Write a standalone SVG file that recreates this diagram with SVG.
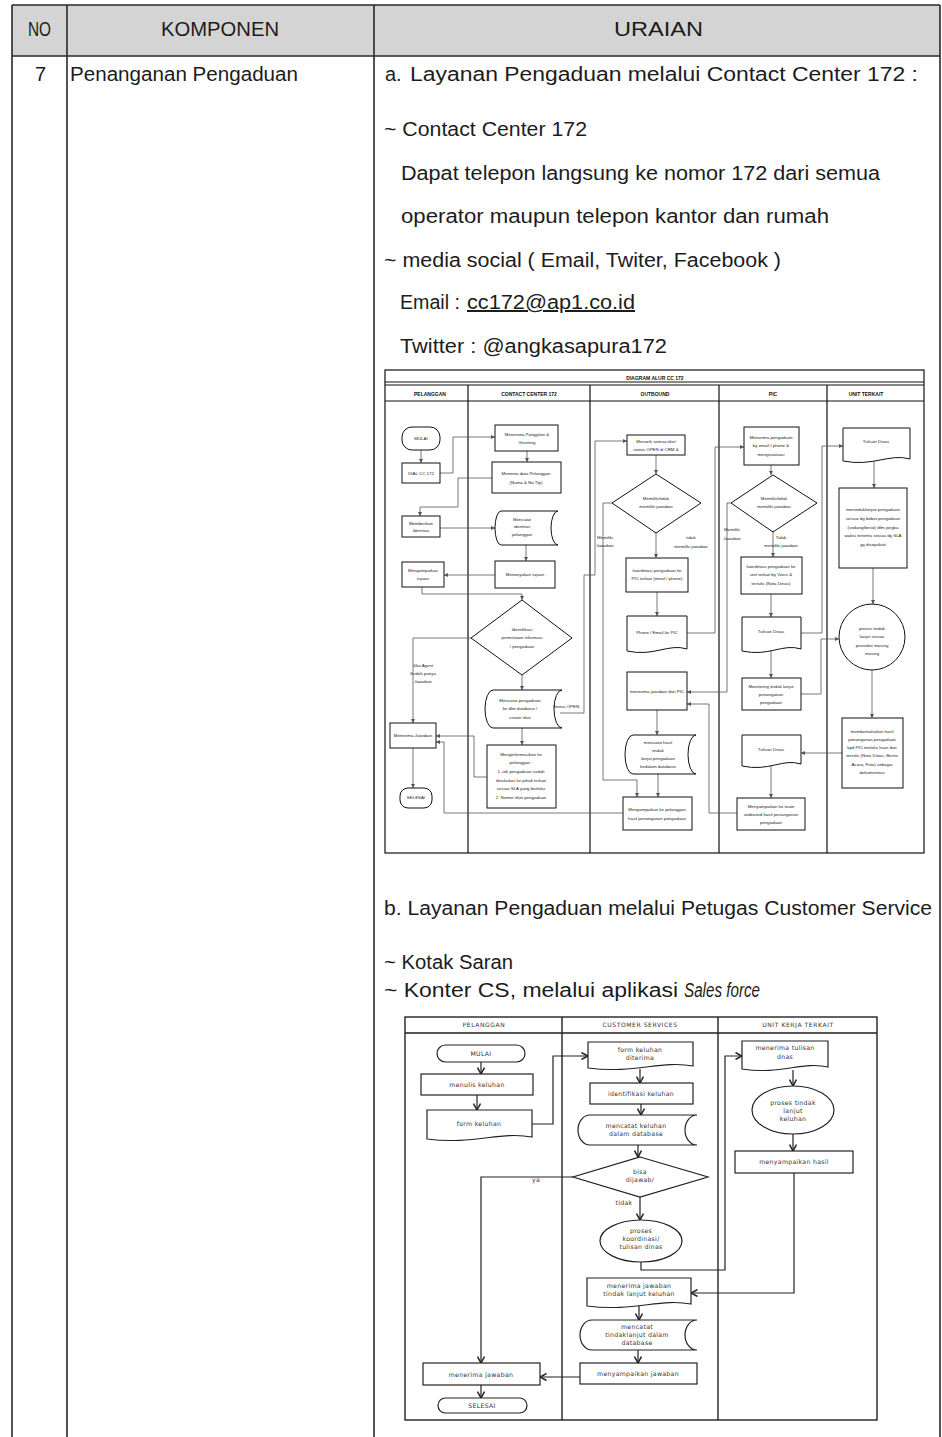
<svg xmlns="http://www.w3.org/2000/svg" width="942" height="1437" viewBox="0 0 942 1437">
<style>
.tl{stroke:#2a2a2a;stroke-width:1.6;fill:none}
.t{font-family:"Liberation Sans",Arial,sans-serif;font-size:20px;fill:#1c1c1c}
.s1{fill:#fff;stroke:#111;stroke-width:1}
.f1{fill:none;stroke:#111;stroke-width:1.2}
.x1{font-family:"Liberation Sans",Arial,sans-serif;font-size:4.4px;fill:#222;text-anchor:middle}
.h1{font-family:"Liberation Sans",Arial,sans-serif;font-size:5px;font-weight:bold;fill:#111;text-anchor:middle}
.c1{fill:none;stroke:#555;stroke-width:0.8;marker-end:url(#m1)}
.s2{fill:#fff;stroke:#222;stroke-width:1.2}
.f2{fill:none;stroke:#222;stroke-width:1.4}
.x2{font-family:"DejaVu Sans",Verdana,sans-serif;font-size:6.2px;fill:#333;text-anchor:middle;letter-spacing:0.3px}
.h2{font-family:"DejaVu Sans",Verdana,sans-serif;font-size:6px;fill:#333;text-anchor:middle;letter-spacing:0.6px}
.c2{fill:none;stroke:#222;stroke-width:1.2;marker-end:url(#m2)}
</style>
<defs>
<marker id="m1" markerUnits="userSpaceOnUse" markerWidth="4" markerHeight="4" refX="4" refY="2" orient="auto"><path d="M0,0 L4,2 L0,4 Z" fill="#555"/></marker>
<marker id="m2" markerUnits="userSpaceOnUse" markerWidth="8" markerHeight="8" viewBox="0 0 8 8" refX="7" refY="4" orient="auto"><path d="M0.5,0.5 L7,4 L0.5,7.5" fill="none" stroke="#222" stroke-width="1.5"/></marker>
</defs>
<rect width="942" height="1437" fill="#fff"/>

<g id="table">
<rect x="12" y="5" width="928" height="51" fill="#d4d4d4"/>
<path class="tl" d="M12,5 H940 M12,56 H940 M12,5 V1437 M67,5 V1437 M374,5 V1437 M940,5 V1437"/>
<text class="t" x="28" y="36" textLength="23" lengthAdjust="spacingAndGlyphs">NO</text>
<text class="t" x="161" y="36" textLength="118" lengthAdjust="spacingAndGlyphs">KOMPONEN</text>
<text class="t" x="614" y="36" textLength="89" lengthAdjust="spacingAndGlyphs">URAIAN</text>
<text class="t" x="35" y="81">7</text>
<text class="t" x="70" y="81" textLength="228" lengthAdjust="spacingAndGlyphs">Penanganan Pengaduan</text>
</g>

<g id="uraian-text">
<text class="t" x="385" y="81">a.</text>
<text class="t" x="410" y="81" textLength="508" lengthAdjust="spacingAndGlyphs">Layanan Pengaduan melalui Contact Center 172 :</text>
<text class="t" x="384" y="136" textLength="203" lengthAdjust="spacingAndGlyphs">~ Contact Center 172</text>
<text class="t" x="401" y="180" textLength="479" lengthAdjust="spacingAndGlyphs">Dapat telepon langsung ke nomor 172 dari semua</text>
<text class="t" x="401" y="223" textLength="428" lengthAdjust="spacingAndGlyphs">operator maupun telepon kantor dan rumah</text>
<text class="t" x="384" y="267" textLength="397" lengthAdjust="spacingAndGlyphs">~ media social ( Email, Twiter, Facebook )</text>
<text class="t" x="400" y="309" textLength="60" lengthAdjust="spacingAndGlyphs">Email :</text>
<text class="t" x="467" y="309" textLength="168" lengthAdjust="spacingAndGlyphs" text-decoration="underline">cc172@ap1.co.id</text>
<text class="t" x="400" y="353" textLength="267" lengthAdjust="spacingAndGlyphs">Twitter : @angkasapura172</text>
<text class="t" x="384" y="915" textLength="548" lengthAdjust="spacingAndGlyphs">b. Layanan Pengaduan melalui Petugas Customer Service</text>
<text class="t" x="384" y="969" font-size="18.5px" textLength="129" lengthAdjust="spacingAndGlyphs">~ Kotak Saran</text>
<text class="t" x="384" y="997" font-size="18.5px" textLength="294" lengthAdjust="spacingAndGlyphs">~ Konter CS, melalui aplikasi</text>
<text class="t" x="684" y="997" font-size="18.5px" textLength="76" lengthAdjust="spacingAndGlyphs" font-style="italic">Sales force</text>
</g>

<!-- ================= DIAGRAM ALUR CC 172 ================= -->
<g id="cc172-frame">
<rect class="f1" x="385" y="370" width="539" height="483"/>
<path class="f1" d="M385,382 H924 M385,385 H924 M385,401 H924 M468,385 V853 M590,385 V853 M719,385 V853 M827,385 V853"/>
<text class="h1" x="655" y="380" font-size="6px">DIAGRAM ALUR CC 172</text>
<text class="h1" x="430" y="396">PELANGGAN</text>
<text class="h1" x="529" y="396">CONTACT CENTER 172</text>
<text class="h1" x="655" y="396">OUTBOUND</text>
<text class="h1" x="773" y="396">PIC</text>
<text class="h1" x="866" y="396">UNIT TERKAIT</text>
</g>

<g id="cc172-connectors">
<path class="c1" d="M421,450 V463"/>
<path class="c1" d="M440,473 H453 V437 H495"/>
<path class="c1" d="M527,451 V462"/>
<path class="c1" d="M492,478 H458 V507 H420 V516"/>
<path class="c1" d="M440,528 H495"/>
<path class="c1" d="M526,545 V561"/>
<path class="c1" d="M495,575 H444"/>
<path class="c1" d="M422,587 V594 H522 V600"/>
<path class="c1" d="M471,638 H413 V723"/>
<path class="c1" d="M522,675 V690"/>
<path class="c1" d="M560,713 H584 V575 H595 V441 H627"/>
<path class="c1" d="M522,728 V745"/>
<path class="c1" d="M487,777 H474 V736 H436"/>
<path class="c1" d="M623,813 H444 V742 H436"/>
<path class="c1" d="M413,748 V788"/>
<path class="c1" d="M656,455 V474"/>
<path class="c1" d="M612,503 H603 V780 H637 V797"/>
<path class="c1" d="M656,533 V558"/>
<path class="c1" d="M657,592 V616"/>
<path class="c1" d="M687,633 H715 V447 H744"/>
<path class="c1" d="M731,503 H727 V692 H687"/>
<path class="c1" d="M737,813 H709 V704 H687"/>
<path class="c1" d="M657,710 V735"/>
<path class="c1" d="M658,774 V797"/>
<path class="c1" d="M771,465 V475"/>
<path class="c1" d="M773,532 V557"/>
<path class="c1" d="M771,594 V617"/>
<path class="c1" d="M801,633 H822 V446 H843"/>
<path class="c1" d="M771,650 V678"/>
<path class="c1" d="M801,694 H821 V639 H839"/>
<path class="c1" d="M842,753 H801"/>
<path class="c1" d="M771,765 V798"/>
<path class="c1" d="M874,460 V488"/>
<path class="c1" d="M873,568 V604"/>
<path class="c1" d="M872,670 V718"/>
</g>

<g id="cc-mulai"><rect class="s1" x="402" y="427" width="38" height="23" rx="10"/><text class="x1" x="421" y="440">MULAI</text></g>
<g id="cc-dial"><rect class="s1" x="402" y="463" width="38" height="20"/><text class="x1" x="421" y="475">DIAL CC 172</text></g>
<g id="cc-menerima-panggilan"><rect class="s1" x="495" y="425" width="63" height="26"/><text class="x1" x="527" y="436">Menerima Panggilan &amp;</text><text class="x1" x="527" y="444">Greeting</text></g>
<g id="cc-meminta-data"><rect class="s1" x="492" y="462" width="69" height="31"/><text class="x1" x="526" y="475">Meminta data Pelanggan</text><text class="x1" x="526" y="484">(Nama &amp; No Tlp)</text></g>
<g id="cc-memberikan"><rect class="s1" x="402" y="516" width="38" height="21"/><text class="x1" x="421" y="525">Memberikan</text><text class="x1" x="421" y="532">Identitas</text></g>
<g id="cc-mencatat-identitas"><path class="s1" d="M501,511 H558 A7,17 0 0 0 558,545 H501 A6,17 0 0 1 501,511 Z"/><text class="x1" x="522" y="521">Mencatat</text><text class="x1" x="522" y="528">identitas</text><text class="x1" x="522" y="536">pelanggan</text></g>
<g id="cc-menanyakan"><rect class="s1" x="495" y="561" width="60" height="27"/><text class="x1" x="525" y="576">Menanyakan tujuan</text></g>
<g id="cc-menyampaikan-tujuan"><rect class="s1" x="402" y="562" width="42" height="25"/><text class="x1" x="423" y="572">Menyampaikan</text><text class="x1" x="423" y="580">tujuan</text></g>
<g id="cc-identifikasi"><polygon class="s1" points="522,600 572,638 522,675 471,638"/><text class="x1" x="522" y="631">Identifikasi</text><text class="x1" x="522" y="639">permintaan informasi</text><text class="x1" x="522" y="648">/ pengaduan</text></g>
<g id="cc-jika-agent"><text class="x1" x="423" y="667" text-anchor="start">Jika Agent</text><text class="x1" x="423" y="675" text-anchor="start">Sudah punya</text><text class="x1" x="423" y="683" text-anchor="start">Jawaban</text></g>
<g id="cc-mencatat-pengaduan"><path class="s1" d="M493,690 H562 A8,19 0 0 0 562,728 H493 A8,19 0 0 1 493,690 Z"/><text class="x1" x="520" y="702">Mencatat pengaduan</text><text class="x1" x="520" y="710">ke dlm database /</text><text class="x1" x="520" y="719">create tiket</text></g>
<g id="cc-status-open"><text class="x1" x="566" y="708">Status OPEN</text></g>
<g id="cc-menginformasikan"><rect class="s1" x="487" y="745" width="69" height="63"/><text class="x1" x="521" y="756">Menginformasikan ke</text><text class="x1" x="521" y="764">pelanggan :</text><text class="x1" x="521" y="773">1. utk pengaduan sudah</text><text class="x1" x="521" y="782">dieskalasi ke pihak terkait</text><text class="x1" x="521" y="790">sesuai SLA yang berlaku</text><text class="x1" x="521" y="799">2. Nomer tiket pengaduan</text></g>
<g id="cc-menerima-jawaban"><rect class="s1" x="390" y="723" width="46" height="25"/><text class="x1" x="413" y="737">Menerima Jawaban</text></g>
<g id="cc-selesai"><rect class="s1" x="400" y="788" width="32" height="20" rx="8"/><text class="x1" x="416" y="799">SELESAI</text></g>

<g id="ob-menarik"><rect class="s1" x="627" y="435" width="58" height="20"/><text class="x1" x="656" y="443">Menarik semua tiket</text><text class="x1" x="656" y="451">status OPEN di CRM &amp;</text></g>
<g id="ob-diamond"><polygon class="s1" points="656,474 701,503 656,533 612,503"/><text class="x1" x="656" y="500">Memiliki/tidak</text><text class="x1" x="656" y="508">memiliki jawaban</text></g>
<g id="ob-labels"><text class="x1" x="605" y="539" text-anchor="start">Memiliki</text><text class="x1" x="605" y="547" text-anchor="start">Jawaban</text><text class="x1" x="691" y="539">tidak</text><text class="x1" x="691" y="548">memiliki jawaban</text></g>
<g id="ob-koordinasi"><rect class="s1" x="626" y="558" width="62" height="34"/><text class="x1" x="657" y="572">koordinasi pengaduan ke</text><text class="x1" x="657" y="580">PIC terkait (email / phone)</text></g>
<g id="ob-phone"><path class="s1" d="M627,616 H687 V649 C669,643 654,657 627,651 Z"/><text class="x1" x="657" y="634">Phone / Email ke PIC</text></g>
<g id="ob-menerima-jawaban"><rect class="s1" x="627" y="672" width="60" height="38"/><text class="x1" x="657" y="693">menerima jawaban dari PIC</text></g>
<g id="ob-mencatat-hasil"><path class="s1" d="M633,735 H696 A8,19.5 0 0 0 696,774 H633 A8,19.5 0 0 1 633,735 Z"/><text class="x1" x="658" y="744">mencatat hasil</text><text class="x1" x="658" y="752">tindak</text><text class="x1" x="658" y="760">lanjut pengaduan</text><text class="x1" x="658" y="768">kedalam database</text></g>
<g id="ob-menyampaikan"><rect class="s1" x="623" y="797" width="69" height="33"/><text class="x1" x="657" y="811">Menyampaikan ke pelanggan</text><text class="x1" x="657" y="820">hasil penanganan pengaduan</text></g>

<g id="pic-menerima"><rect class="s1" x="744" y="427" width="55" height="38"/><text class="x1" x="771" y="439">Menerima pengaduan</text><text class="x1" x="771" y="447">by email / phone &amp;</text><text class="x1" x="771" y="456">mengevaluasi</text></g>
<g id="pic-diamond"><polygon class="s1" points="773,475 817,503 773,532 731,503"/><text class="x1" x="774" y="500">Memiliki/tidak</text><text class="x1" x="774" y="508">memiliki jawaban</text></g>
<g id="pic-labels"><text class="x1" x="732" y="531" text-anchor="start">Memiliki</text><text class="x1" x="732" y="540" text-anchor="start">Jawaban</text><text class="x1" x="781" y="539" text-anchor="start">Tidak</text><text class="x1" x="781" y="547" text-anchor="start">memiliki jawaban</text></g>
<g id="pic-koordinasi"><rect class="s1" x="741" y="557" width="61" height="37"/><text class="x1" x="771" y="568">koordinasi pengaduan ke</text><text class="x1" x="771" y="576">unit terkait by Voice &amp;</text><text class="x1" x="771" y="585">tertulis (Nota Dinas)</text></g>
<g id="pic-tulisan1"><path class="s1" d="M742,617 H801 V649 C783,643 769,657 742,651 Z"/><text class="x1" x="771" y="633">Tulisan Dinas</text></g>
<g id="pic-monitoring"><rect class="s1" x="742" y="678" width="59" height="32"/><text class="x1" x="771" y="688">Monitoring tindak lanjut</text><text class="x1" x="771" y="696">penanganan</text><text class="x1" x="771" y="704">pengaduan</text></g>
<g id="pic-tulisan2"><path class="s1" d="M742,735 H801 V764 C783,758 769,772 742,766 Z"/><text class="x1" x="771" y="751">Tulisan Dinas</text></g>
<g id="pic-menyampaikan"><rect class="s1" x="737" y="798" width="68" height="32"/><text class="x1" x="771" y="808">Menyampaikan ke team</text><text class="x1" x="771" y="816">outbound hasil penanganan</text><text class="x1" x="771" y="824">pengaduan</text></g>

<g id="ut-tulisan"><path class="s1" d="M843,428 H910 V459 C890,453 873,467 843,461 Z"/><text class="x1" x="876" y="443">Tulisan Dinas</text></g>
<g id="ut-menindaklanjuti"><rect class="s1" x="839" y="488" width="68" height="80"/><text class="x1" x="873" y="511">menindaklanjuti pengaduan</text><text class="x1" x="873" y="520">sesuai dg bobot pengaduan</text><text class="x1" x="873" y="529">(sedang/berat) dlm jangka</text><text class="x1" x="873" y="537">waktu tertentu sesuai dg SLA</text><text class="x1" x="873" y="546">yg disepakati</text></g>
<g id="ut-proses"><circle class="s1" cx="872" cy="637" r="33"/><text class="x1" x="872" y="630">proses tindak</text><text class="x1" x="872" y="638">lanjut sesuai</text><text class="x1" x="872" y="647">prosedur masing</text><text class="x1" x="872" y="655">masing</text></g>
<g id="ut-memberitahukan"><rect class="s1" x="842" y="718" width="61" height="70"/><text class="x1" x="872" y="733">memberitahukan hasil</text><text class="x1" x="872" y="741">penanganan pengaduan</text><text class="x1" x="872" y="749">kpd PIC melalui lisan dan</text><text class="x1" x="872" y="757">tertulis (Nota Dinas, Berita</text><text class="x1" x="872" y="766">Acara, Foto) sebagai</text><text class="x1" x="872" y="774">dokumentasi</text></g>

<!-- ================= DIAGRAM CS ================= -->
<g id="cs-frame">
<rect class="f2" x="405" y="1017" width="472" height="403"/>
<path class="f2" d="M405,1033 H877 M562,1017 V1420 M718,1017 V1420"/>
<text class="h2" x="484" y="1027">PELANGGAN</text>
<text class="h2" x="640" y="1027">CUSTOMER SERVICES</text>
<text class="h2" x="798" y="1027">UNIT KERJA TERKAIT</text>
</g>

<g id="cs-connectors">
<path class="c2" d="M481,1062 V1074"/>
<path class="c2" d="M477,1095 V1110"/>
<path class="c2" d="M532,1124 H553 V1056 H588"/>
<path class="c2" d="M640,1069 V1083"/>
<path class="c2" d="M641,1104 V1115"/>
<path class="c2" d="M638,1145 V1157"/>
<path class="c2" d="M573,1177 H481 V1363"/>
<path class="c2" d="M640,1197 V1220"/>
<path class="c2" d="M641,1262 V1270 H725 V1056 H742"/>
<path class="c2" d="M793,1070 V1086"/>
<path class="c2" d="M793,1134 V1151"/>
<path class="c2" d="M794,1173 V1293 H691"/>
<path class="c2" d="M639,1306 V1320"/>
<path class="c2" d="M638,1350 V1363"/>
<path class="c2" d="M580,1377 H540"/>
<path class="c2" d="M481,1385 V1398"/>
</g>

<g id="cs-mulai"><rect class="s2" x="437" y="1045" width="88" height="17" rx="8.5"/><text class="x2" x="481" y="1056">MULAI</text></g>
<g id="cs-menulis"><rect class="s2" x="421" y="1074" width="112" height="21"/><text class="x2" x="477" y="1087">menulis keluhan</text></g>
<g id="cs-form"><path class="s2" d="M427,1110 H532 V1137 C500,1131 474,1145 427,1139 Z"/><text class="x2" x="479" y="1126">form keluhan</text></g>
<g id="cs-diterima"><path class="s2" d="M588,1042 H693 V1066 C661,1060 635,1074 588,1068 Z"/><text class="x2" x="640" y="1052">form keluhan</text><text class="x2" x="640" y="1060">diterima</text></g>
<g id="cs-identifikasi"><rect class="s2" x="590" y="1083" width="103" height="21"/><text class="x2" x="641" y="1096">identifikasi keluhan</text></g>
<g id="cs-mencatat"><path class="s2" d="M590,1115 H697 A12,15 0 0 0 697,1145 H590 A12,15 0 0 1 590,1115 Z"/><text class="x2" x="636" y="1128">mencatat keluhan</text><text class="x2" x="636" y="1136">dalam database</text></g>
<g id="cs-bisa"><polygon class="s2" points="640,1157 708,1177 640,1197 573,1177"/><text class="x2" x="640" y="1174">bisa</text><text class="x2" x="640" y="1182">dijawab/</text></g>
<g id="cs-labels"><text class="x2" x="536" y="1182">ya</text><text class="x2" x="624" y="1205">tidak</text></g>
<g id="cs-proses"><ellipse class="s2" cx="641" cy="1241" rx="41" ry="21"/><text class="x2" x="641" y="1233">proses</text><text class="x2" x="641" y="1241">koordinasi/</text><text class="x2" x="641" y="1249">tulisan dinas</text></g>
<g id="cs-menerima-tl"><path class="s2" d="M587,1278 H691 V1304 C660,1298 634,1312 587,1306 Z"/><text class="x2" x="639" y="1288">menerima jawaban</text><text class="x2" x="639" y="1296">tindak lanjut keluhan</text></g>
<g id="cs-mencatat-tl"><path class="s2" d="M592,1320 H697 A12,15 0 0 0 697,1350 H592 A12,15 0 0 1 592,1320 Z"/><text class="x2" x="637" y="1329">mencatat</text><text class="x2" x="637" y="1337">tindaklanjut dalam</text><text class="x2" x="637" y="1345">database</text></g>
<g id="cs-menyampaikan"><rect class="s2" x="580" y="1363" width="117" height="21"/><text class="x2" x="638" y="1376">menyampaikan jawaban</text></g>
<g id="cs-menerima-jawaban"><rect class="s2" x="423" y="1363" width="117" height="22"/><text class="x2" x="481" y="1377">menerima  jawaban</text></g>
<g id="cs-selesai"><rect class="s2" x="438" y="1398" width="89" height="15" rx="7.5"/><text class="x2" x="482" y="1408">SELESAI</text></g>
<g id="uk-menerima"><path class="s2" d="M742,1041 H828 V1067 C802,1061 781,1075 742,1069 Z"/><text class="x2" x="785" y="1050">menerima tulisan</text><text class="x2" x="785" y="1059">dnas</text></g>
<g id="uk-proses"><ellipse class="s2" cx="793" cy="1110" rx="41" ry="24"/><text class="x2" x="793" y="1105">proses tindak</text><text class="x2" x="793" y="1113">lanjut</text><text class="x2" x="793" y="1121">keluhan</text></g>
<g id="uk-menyampaikan"><rect class="s2" x="735" y="1151" width="118" height="22"/><text class="x2" x="794" y="1164">menyampaikan hasil</text></g>
</svg>
